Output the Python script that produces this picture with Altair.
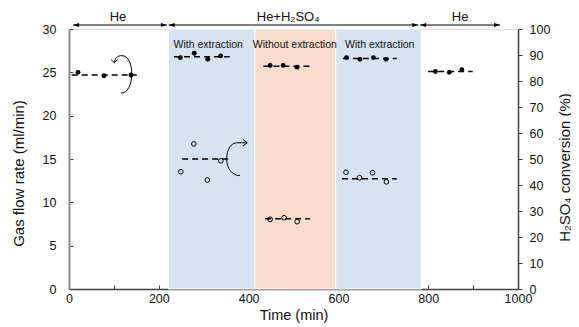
import altair as alt
import pandas as pd

W, H = 449, 260
FONT = "Liberation Sans"

# background phases (min)
band_start = [221, 414, 594]
band_end = [414, 594, 785]
band_color = ["#d5e3f3", "#f9ddcb", "#d5e3f3"]

# gas-feed arrows above the plot
phase_start = [9, 222, 782]
phase_end = [218, 778, 960]
phase_label = ["He", "He+H₂SO₄", "He"]
phase_label_t = [109, 488, 871]

# extraction labels
ext_label = ["With extraction", "Without extraction", "With extraction"]
ext_t = [310, 503, 692]

# gas flow rate (ml/min), filled dots
gas_t = [20, 78, 138, 248, 279, 309, 338, 448, 477, 508, 618, 648, 678, 706, 816, 847, 875]
gas_v = [25.0, 24.6, 24.7, 26.7, 27.2, 26.5, 26.9, 25.8, 25.8, 25.6, 26.7, 26.5, 26.7, 26.5, 25.1, 25.0, 25.3]

# gas flow averages (dashed)
gas_avg_start = [6, 234, 433, 610, 800]
gas_avg_end = [151, 358, 537, 730, 899]
gas_avg = [24.7, 26.8, 25.7, 26.6, 25.1]

# H2SO4 conversion (%), open circles
conv_t = [249, 278, 308, 338, 448, 479, 508, 617, 647, 676, 707]
conv_v = [45.1, 55.8, 41.9, 49.3, 26.8, 27.4, 25.9, 44.9, 42.8, 44.7, 41.2]

# conversion averages (dashed)
conv_avg_start = [252, 437, 608]
conv_avg_end = [355, 537, 730]
conv_avg = [50.0, 27.0, 42.4]

# axis-pointer curved arrows
rot_gas_t = [120]
rot_gas_v = [24.8]
rot_conv_t = [374]
rot_conv_v = [50.4]

ROT_LEFT = ("M-0.45,-0.6C-0.4,-0.85,-0.3,-0.97,-0.05,-0.97C0.3,-0.97,0.47,-0.5,0.47,0"
            "C0.47,0.55,0.25,1.0,-0.1,1.0M-0.62,-0.76L-0.45,-0.6L-0.27,-0.76")
ROT_RIGHT = ("M0.54,-0.8L0,-0.8C-0.3,-0.8,-0.54,-0.45,-0.54,0.05C-0.54,0.55,-0.25,0.93,0.16,0.93"
             "M0.32,-0.97L0.54,-0.8L0.32,-0.63")
HEAD_L = "M0,0L2,-0.65L2,0.65Z"
HEAD_R = "M0,0L-2,-0.65L-2,0.65Z"

xs = alt.Scale(domain=[0, 1000], nice=False)
gas_scale = alt.Scale(domain=[0, 30], nice=False)
conv_scale = alt.Scale(domain=[0, 100], nice=False)


def X(field, axis=None):
    return alt.X(f"{field}:Q", scale=xs, axis=axis)


x_main_axis = alt.Axis(
    orient="bottom", values=list(range(0, 1001, 100)), format="d",
    labelExpr="datum.value % 200 === 0 ? datum.label : ''",
    ticks=False, grid=False, domainColor="#404040", domainWidth=1.5,
    labelFont=FONT, labelFontSize=12.5, labelColor="#111", labelPadding=3,
    labelOverlap=False, labelFlush=False,
    title="Time (min)", titleFont=FONT, titleFontSize=14.5, titleFontWeight=400,
    titleColor="#111", titleX=W / 2, titleY=26, titleBaseline="middle", titleAlign="center",
)
x_tick_axis = alt.Axis(
    orient="top", offset=-H, values=list(range(0, 1001, 100)), tickSize=4,
    tickColor="#404040", tickWidth=1, labels=False, domain=False, grid=False, title=None,
)
y_left_axis = alt.Axis(
    orient="left", values=list(range(0, 31, 5)), ticks=False, grid=False,
    domainColor="#8a8a8a", domainWidth=2,
    labelFont=FONT, labelFontSize=12.5, labelColor="#111", labelPadding=13,
    title="Gas flow rate (ml/min)", titleFont=FONT, titleFontSize=15, titleFontWeight=400,
    titleColor="#111", titleX=-51, titleY=H / 2 + 14, titleAngle=270,
    titleBaseline="middle", titleAlign="center",
)
y_left_tick_axis = alt.Axis(
    orient="right", offset=-W, values=list(range(0, 31, 5)), tickSize=4,
    tickColor="#404040", tickWidth=1, labels=False, domain=False, grid=False, title=None,
)
y_right_axis = alt.Axis(
    orient="right", values=list(range(0, 101, 10)), tickSize=4, tickColor="#404040",
    tickWidth=1, grid=False, domainColor="#404040", domainWidth=1.5,
    labelFont=FONT, labelFontSize=12.5, labelColor="#111", labelPadding=7,
    title="H₂SO₄ conversion (%)", titleFont=FONT, titleFontSize=15, titleFontWeight=400,
    titleColor="#111", titleX=46, titleY=H / 2 + 8, titleAngle=270,
    titleBaseline="middle", titleAlign="center",
)

bands = pd.DataFrame({"start": band_start, "end": band_end, "color": band_color})
phase = pd.DataFrame({"start": phase_start, "end": phase_end,
                      "label": phase_label, "lt": phase_label_t})
ext = pd.DataFrame({"t": ext_t, "label": ext_label})
gas = pd.DataFrame({"t": gas_t, "v": gas_v})
gas_avg_df = pd.DataFrame({"start": gas_avg_start, "end": gas_avg_end, "v": gas_avg})
conv = pd.DataFrame({"t": conv_t, "v": conv_v})
conv_avg_df = pd.DataFrame({"start": conv_avg_start, "end": conv_avg_end, "v": conv_avg})
rot_gas = pd.DataFrame({"t": rot_gas_t, "v": rot_gas_v})
rot_conv = pd.DataFrame({"t": rot_conv_t, "v": rot_conv_v})

band_layer = alt.Chart(bands).mark_rect(stroke="white", strokeWidth=1).encode(
    x=X("start", x_main_axis), x2="end:Q",
    y=alt.value(0), y2=alt.value(H),
    color=alt.Color("color:N", scale=None),
)
phase_rule = alt.Chart(phase).mark_rule(color="black", strokeWidth=1).encode(
    x=X("start"), x2="end:Q", y=alt.value(-4))
head_l = alt.Chart(phase).mark_point(shape=HEAD_L, size=36, filled=True, color="black",
                                     opacity=1).encode(x=X("start"), y=alt.value(-4))
head_r = alt.Chart(phase).mark_point(shape=HEAD_R, size=36, filled=True, color="black",
                                     opacity=1).encode(x=X("end"), y=alt.value(-4))
phase_text = alt.Chart(phase).mark_text(font=FONT, fontSize=13, color="#111").encode(
    x=X("lt"), y=alt.value(-12), text="label:N")
ext_text = alt.Chart(ext).mark_text(font=FONT, fontSize=10.5, color="#111").encode(
    x=X("t"), y=alt.value(15.5), text="label:N")

gas_lines = alt.Chart(gas_avg_df).mark_rule(color="black", strokeWidth=1.5,
                                            strokeDash=[6, 4]).encode(
    x=X("start", x_tick_axis), x2="end:Q",
    y=alt.Y("v:Q", scale=gas_scale, axis=y_left_tick_axis))
conv_lines = alt.Chart(conv_avg_df).mark_rule(color="black", strokeWidth=1.5,
                                              strokeDash=[6, 4]).encode(
    x=X("start"), x2="end:Q",
    y=alt.Y("v:Q", scale=conv_scale, axis=None))
gas_pts = alt.Chart(gas).mark_circle(size=24, color="black", opacity=1).encode(
    x=X("t"), y=alt.Y("v:Q", scale=gas_scale, axis=y_left_axis))
conv_pts = alt.Chart(conv).mark_point(shape="circle", size=22, filled=False, color="black",
                                      strokeWidth=1, opacity=1).encode(
    x=X("t"), y=alt.Y("v:Q", scale=conv_scale, axis=y_right_axis))
rot1 = alt.Chart(rot_gas).mark_point(shape=ROT_LEFT, size=1444, filled=False, color="black",
                                     strokeWidth=1, opacity=1).encode(
    x=X("t"), y=alt.Y("v:Q", scale=gas_scale, axis=None))
rot2 = alt.Chart(rot_conv).mark_point(shape=ROT_RIGHT, size=1444, filled=False, color="black",
                                      strokeWidth=1, opacity=1).encode(
    x=X("t"), y=alt.Y("v:Q", scale=conv_scale, axis=None))

chart = alt.layer(
    band_layer, phase_rule, head_l, head_r, phase_text, ext_text,
    gas_lines, conv_lines, gas_pts, conv_pts, rot1, rot2,
).resolve_scale(y="independent").resolve_axis(x="independent", y="independent").properties(
    width=W, height=H,
    padding={"left": 61, "top": 21, "right": 53, "bottom": 38},
    autosize=alt.AutoSizeParams(type="none"),
).configure_view(stroke="#9a9a9a", strokeWidth=1.5).configure(font=FONT)

chart.save("out.html", embed_options={"renderer": "svg", "actions": False})
